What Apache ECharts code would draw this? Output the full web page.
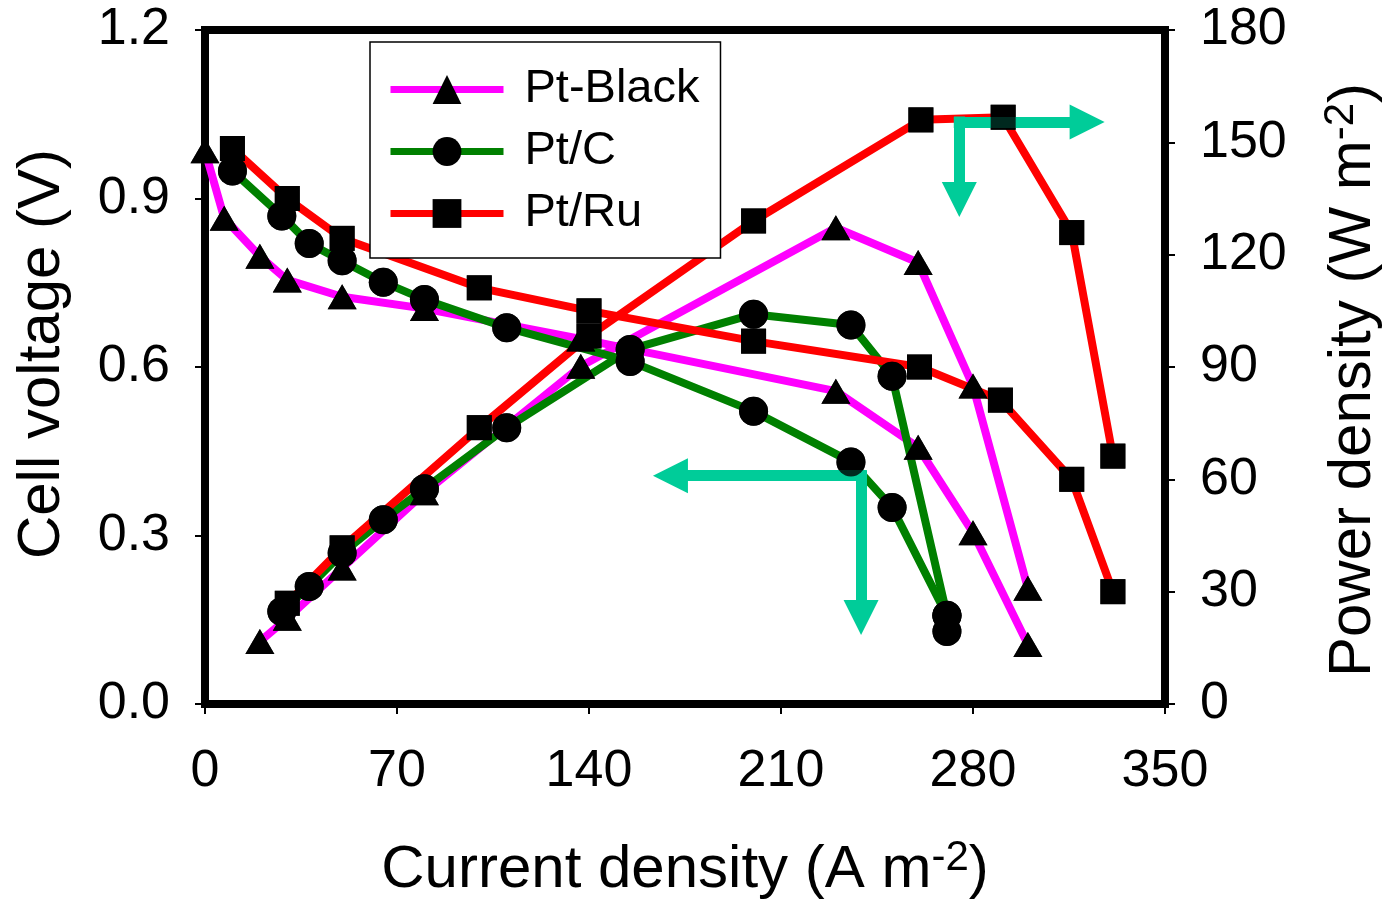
<!DOCTYPE html>
<html><head><meta charset="utf-8">
<script src="https://cdn.jsdelivr.net/npm/echarts@6/dist/echarts.min.js"></script>
<style>html,body{margin:0;padding:0;background:#fff}#c{width:1386px;height:903px}</style>
</head><body><div id="c"></div>
<script>
// ---- data ----
const seriesNames = ['Pt-Black', 'Pt/C', 'Pt/Ru'];
// Pt-Black
const ptBlackVoltX = [0, 7, 20, 30, 50, 80, 137, 230, 260, 280, 300];
const ptBlackVolt  = [0.985, 0.865, 0.797, 0.755, 0.725, 0.704, 0.65, 0.557, 0.457, 0.305, 0.106];
const ptBlackPowX  = [20, 30, 50, 80, 137, 230, 260, 280, 300];
const ptBlackPow   = [16.7, 22.9, 36.3, 56.4, 90.2, 127.2, 117.9, 84.9, 30.9];
// Pt/C
const ptCVoltX = [10, 28, 38, 50, 65, 80, 110, 155, 200, 235.5, 250.5, 270.5, 270.5];
const ptCVolt  = [0.949, 0.869, 0.82, 0.789, 0.751, 0.72, 0.67, 0.61, 0.521, 0.431, 0.35, 0.157, 0.129];
const ptCPowX  = [28, 38, 50, 65, 80, 110, 155, 200, 235.5, 250.5, 270.5];
const ptCPow   = [24.7, 31.4, 40.3, 49.2, 57.5, 73.8, 94.7, 104.1, 101.2, 87.5, 23.7];
// Pt/Ru
const ptRuVoltX = [10, 30, 50, 100, 140, 200, 260.5, 290, 316, 331];
const ptRuVolt  = [0.989, 0.90, 0.829, 0.741, 0.70, 0.646, 0.60, 0.541, 0.40, 0.20];
const ptRuPowX  = [30, 50, 100, 140, 200, 261, 291, 316, 331];
const ptRuPow   = [26.9, 41.7, 73.8, 98.3, 129, 156, 156.7, 125.9, 66.2];
// axes
const xRange = [0, 350, 70];
const yLeftRange = [0, 1.2, 0.3];
const yRightRange = [0, 180, 30];
// annotation arrows: [cornerX, cornerV, horizontalEndX, verticalEndV]
const arrowRight = [275, 1.036, 321.6, 0.898];
const arrowLeft  = [239.2, 0.4066, 169.7, 0.154];

// ---- styling ----
const FONT = '"Liberation Sans", Arial, sans-serif';
const colors = ['#FF00FF', '#008000', '#FF0000'];
const symbols = ['triangle', 'circle', 'rect'];
const sizes = [[29, 25], 29, 25];
const arrowColor = '#00CC99';

function zip(xs, ys) { return xs.map((x, i) => [x, ys[i]]); }

const sets = [
  [ptBlackVoltX, ptBlackVolt, ptBlackPowX, ptBlackPow],
  [ptCVoltX, ptCVolt, ptCPowX, ptCPow],
  [ptRuVoltX, ptRuVolt, ptRuPowX, ptRuPow]
];

const series = [];
sets.forEach((s, i) => {
  [[s[0], s[1], 0], [s[2], s[3], 1]].forEach(([xs, ys, ax]) => {
    series.push({
      type: 'line', name: seriesNames[i], yAxisIndex: ax, data: zip(xs, ys),
      symbol: symbols[i], symbolSize: sizes[i], showSymbol: true,
      lineStyle: { color: colors[i], width: 8 },
      itemStyle: { color: '#000' },
      z: 2, animation: false, silent: true, emphasis: { disabled: true }
    });
  });
});
sets.forEach((s, i) => {
  [[s[0], s[1], 0], [s[2], s[3], 1]].forEach(([xs, ys, ax]) => {
    series.push({
      type: 'scatter', name: seriesNames[i] + '_m', yAxisIndex: ax, data: zip(xs, ys),
      symbol: symbols[i], symbolSize: sizes[i],
      itemStyle: { color: '#000' }, z: 5, animation: false, silent: true,
      emphasis: { disabled: true }
    });
  });
});
function arrowLines(a) {
  return [
    [{ coord: [a[0], a[1]] }, { coord: [a[2], a[1]] }],
    [{ coord: [a[0], a[1]] }, { coord: [a[0], a[3]] }]
  ];
}
series.push({
  type: 'line', name: 'arrows', yAxisIndex: 0, data: [], z: 6, animation: false, silent: true,
  markLine: {
    silent: true, animation: false,
    symbol: ['none', 'triangle'], symbolSize: [35, 35],
    label: { show: false },
    lineStyle: { color: arrowColor, width: 11, type: 'solid', cap: 'square' },
    itemStyle: { color: arrowColor },
    emphasis: { disabled: true },
    data: arrowLines(arrowRight).concat(arrowLines(arrowLeft))
  }
});

function nameStyle(padding) {
  return { color: '#000', fontSize: 60, fontFamily: FONT, lineHeight: 66, padding: padding,
    rich: { sup: { fontSize: 42, lineHeight: 42, verticalAlign: 'top', fontFamily: FONT, color: '#000' } } };
}
const axisCommon = {
  axisLine: { show: false },
  axisTick: { show: true, inside: false, length: 10, lineStyle: { color: '#000', width: 2 } },
  splitLine: { show: false },
  axisLabel: { color: '#000', fontSize: 52, fontFamily: FONT }
};

const option = {
  backgroundColor: '#fff',
  animation: false,
  grid: { left: 205, right: 221, top: 30, bottom: 199, show: true, borderColor: '#000', borderWidth: 8,
          backgroundColor: 'transparent', containLabel: false, outerBoundsMode: 'none' },
  legend: {
    data: seriesNames, orient: 'vertical', left: 370, top: 42,
    itemWidth: 113, itemHeight: 36, itemGap: 15,
    padding: [24, 21, 21, 17], borderColor: '#000', borderWidth: 1.5, backgroundColor: '#fff',
    selectedMode: false,
    lineStyle: { width: 7 },
    textStyle: { color: '#000', fontSize: 47, fontFamily: FONT, lineHeight: 36, padding: [0, 0, 0, 16] }
  },
  xAxis: Object.assign({}, axisCommon, {
    type: 'value', min: xRange[0], max: xRange[1], interval: xRange[2],
    name: 'Current density (A m{sup|-2})', nameLocation: 'middle', nameGap: 133,
    nameTextStyle: nameStyle(0),
    axisLabel: Object.assign({}, axisCommon.axisLabel, { margin: 42 })
  }),
  yAxis: [
    Object.assign({}, axisCommon, {
      type: 'value', min: yLeftRange[0], max: yLeftRange[1], interval: yLeftRange[2], position: 'left',
      name: 'Cell voltage (V)', nameLocation: 'middle', nameGap: 130,
      nameTextStyle: nameStyle([0, 0, 0, 26]),
      axisLabel: Object.assign({}, axisCommon.axisLabel, { margin: 35, formatter: v => v.toFixed(1) })
    }),
    Object.assign({}, axisCommon, {
      type: 'value', min: yRightRange[0], max: yRightRange[1], interval: yRightRange[2], position: 'right',
      name: 'Power density (W m{sup|-2})', nameLocation: 'middle', nameGap: 155, nameRotate: 90,
      nameTextStyle: nameStyle([0, 26, 0, 0]),
      axisLabel: Object.assign({}, axisCommon.axisLabel, { margin: 35 })
    })
  ],
  series: series
};
const chart = echarts.init(document.getElementById('c'), null, { renderer: 'canvas' });
chart.setOption(option);
</script></body></html>
